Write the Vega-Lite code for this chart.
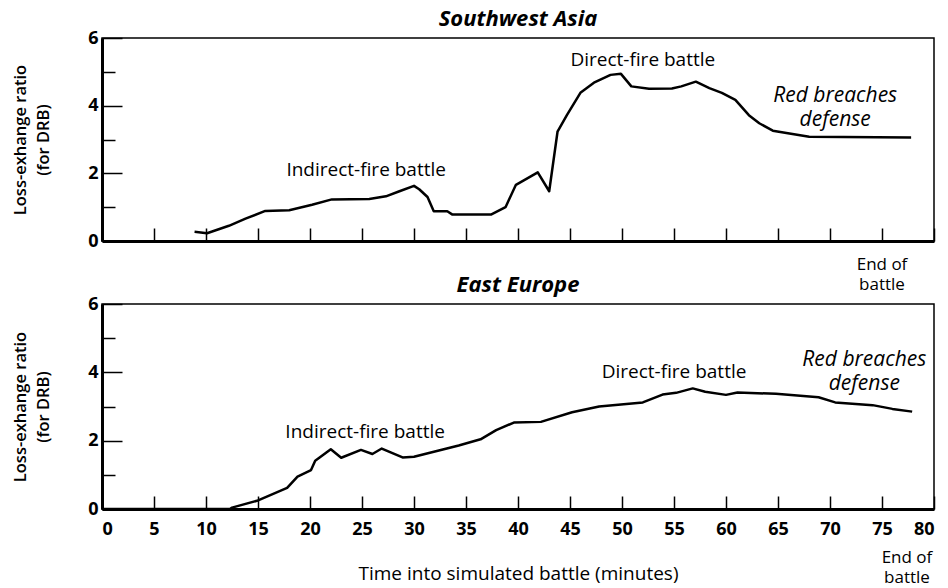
{
  "$schema": "https://vega.github.io/schema/vega-lite/v6.json",
  "background": "white",
  "padding": {"left": 11, "top": 7, "right": 5, "bottom": 0},
  "config": {
    "font": "Open Sans",
    "view": {"stroke": "black", "strokeWidth": 1.5},
    "axis": {"domainColor": "black", "domainWidth": 3, "tickColor": "black", "tickWidth": 1.5, "labelColor": "black", "titleColor": "black", "grid": false, "labelFont": "Open Sans", "labelFontWeight": 700, "labelFontSize": 18, "titleFont": "Open Sans", "titleFontWeight": 600, "titleFontSize": 16.5},
    "title": {"font": "Open Sans", "fontStyle": "italic", "fontWeight": 700, "fontSize": 22, "color": "black", "offset": -2},
    "text": {"font": "Open Sans", "fontSize": 19, "color": "black"}
  },
  "datasets": {
    "swa": [
      {"t": 8.9, "r": 0.27}, {"t": 10.1, "r": 0.23}, {"t": 12.2, "r": 0.45}, {"t": 13.8, "r": 0.66}, {"t": 15.7, "r": 0.89}, {"t": 18.0, "r": 0.91}, {"t": 20.2, "r": 1.07}, {"t": 22.1, "r": 1.23}, {"t": 25.7, "r": 1.24}, {"t": 27.3, "r": 1.32}, {"t": 28.6, "r": 1.47}, {"t": 30.0, "r": 1.63}, {"t": 30.5, "r": 1.53}, {"t": 31.3, "r": 1.30}, {"t": 31.9, "r": 0.88}, {"t": 33.2, "r": 0.88}, {"t": 33.7, "r": 0.78}, {"t": 37.4, "r": 0.78}, {"t": 38.8, "r": 1.0}, {"t": 39.8, "r": 1.66}, {"t": 40.6, "r": 1.80}, {"t": 41.9, "r": 2.03}, {"t": 43.0, "r": 1.47}, {"t": 43.8, "r": 3.23}, {"t": 44.7, "r": 3.72}, {"t": 46.0, "r": 4.38}, {"t": 47.3, "r": 4.68}, {"t": 48.9, "r": 4.91}, {"t": 49.9, "r": 4.94}, {"t": 50.9, "r": 4.57}, {"t": 52.6, "r": 4.50}, {"t": 54.8, "r": 4.51}, {"t": 55.7, "r": 4.57}, {"t": 57.1, "r": 4.71}, {"t": 58.4, "r": 4.52}, {"t": 59.6, "r": 4.38}, {"t": 60.9, "r": 4.17}, {"t": 62.2, "r": 3.72}, {"t": 63.2, "r": 3.48}, {"t": 64.5, "r": 3.26}, {"t": 66.1, "r": 3.18}, {"t": 68.0, "r": 3.08}, {"t": 77.8, "r": 3.06}
    ],
    "ee": [
      {"t": 0, "r": 0}, {"t": 12.3, "r": 0}, {"t": 12.5, "r": 0.04}, {"t": 14.9, "r": 0.24}, {"t": 17.8, "r": 0.62}, {"t": 18.8, "r": 0.95}, {"t": 20.1, "r": 1.14}, {"t": 20.5, "r": 1.41}, {"t": 22.0, "r": 1.75}, {"t": 23.0, "r": 1.50}, {"t": 24.9, "r": 1.73}, {"t": 26.0, "r": 1.61}, {"t": 26.9, "r": 1.77}, {"t": 28.9, "r": 1.51}, {"t": 30.0, "r": 1.53}, {"t": 34.3, "r": 1.86}, {"t": 36.4, "r": 2.04}, {"t": 37.9, "r": 2.31}, {"t": 39.6, "r": 2.53}, {"t": 42.2, "r": 2.55}, {"t": 45.2, "r": 2.83}, {"t": 47.8, "r": 3.0}, {"t": 52.0, "r": 3.12}, {"t": 53.9, "r": 3.35}, {"t": 55.2, "r": 3.40}, {"t": 56.8, "r": 3.53}, {"t": 58.0, "r": 3.43}, {"t": 60.0, "r": 3.34}, {"t": 61.1, "r": 3.41}, {"t": 64.8, "r": 3.37}, {"t": 68.9, "r": 3.27}, {"t": 70.5, "r": 3.12}, {"t": 74.1, "r": 3.04}, {"t": 76.0, "r": 2.93}, {"t": 77.9, "r": 2.85}
    ],
    "swa_notes": [
      {"t": 25.4, "r": 2.1, "label": "Indirect-fire battle"},
      {"t": 52.0, "r": 5.35, "label": "Direct-fire battle"}
    ],
    "swa_italic": [
      {"t": 70.5, "r": 4.29, "label": "Red breaches\ndefense"}
    ],
    "swa_end": [
      {"t": 75.0, "r": -0.71, "label": "End of\nbattle"}
    ],
    "ee_notes": [
      {"t": 25.3, "r": 2.25, "label": "Indirect-fire battle"},
      {"t": 55.0, "r": 4.0, "label": "Direct-fire battle"}
    ],
    "ee_italic": [
      {"t": 73.3, "r": 4.36, "label": "Red breaches\ndefense"}
    ],
    "ee_end": [
      {"t": 77.4, "r": -1.43, "label": "End of\nbattle"}
    ]
  },
  "spacing": 63,
  "bounds": "flush",
  "vconcat": [
    {
      "width": 832,
      "height": 203,
      "title": {"text": "Southwest Asia"},
      "encoding": {
        "x": {"field": "t", "type": "quantitative", "scale": {"domain": [0, 80], "nice": false, "zero": false},
              "axis": {"title": null, "labels": false, "values": [0, 5, 10, 15, 20, 25, 30, 35, 40, 45, 50, 55, 60, 65, 70, 75, 80], "tickSize": -13}},
        "y": {"field": "r", "type": "quantitative", "scale": {"domain": [0, 6], "nice": false},
              "axis": {"title": ["Loss-exhange ratio", "(for DRB)"], "titleLineHeight": 23, "titlePadding": 36, "values": [0, 1, 2, 3, 4, 5, 6], "labelExpr": "datum.value % 2 === 0 ? datum.label : ''", "labelFontSize": 18, "tickSize": {"condition": {"test": "datum.value % 2 === 0", "value": -20}, "value": -13}, "labelPadding": 24}}
      },
      "layer": [
        {"data": {"name": "swa"}, "mark": {"type": "line", "color": "black", "strokeWidth": 2.5, "strokeJoin": "round"}},
        {"data": {"name": "swa_notes"}, "mark": {"type": "text", "baseline": "middle"}, "encoding": {"text": {"field": "label"}}},
        {"data": {"name": "swa_italic"}, "mark": {"type": "text", "baseline": "middle", "fontStyle": "italic", "fontSize": 21, "lineBreak": "\n", "lineHeight": 24}, "encoding": {"text": {"field": "label"}}},
        {"data": {"name": "swa_end"}, "mark": {"type": "text", "baseline": "middle", "fontSize": 17, "lineBreak": "\n", "lineHeight": 20}, "encoding": {"text": {"field": "label"}}}
      ]
    },
    {
      "width": 832,
      "height": 205,
      "title": {"text": "East Europe"},
      "encoding": {
        "x": {"field": "t", "type": "quantitative", "scale": {"domain": [0, 80], "nice": false, "zero": false},
              "axis": {"title": "Time into simulated battle (minutes)", "titleFontWeight": 500, "titleFontSize": 19, "titlePadding": 26, "values": [0, 5, 10, 15, 20, 25, 30, 35, 40, 45, 50, 55, 60, 65, 70, 75, 80], "labelFontSize": 18, "tickSize": -13, "labelPadding": 24}},
        "y": {"field": "r", "type": "quantitative", "scale": {"domain": [0, 6], "nice": false},
              "axis": {"title": ["Loss-exhange ratio", "(for DRB)"], "titleLineHeight": 23, "titlePadding": 36, "values": [0, 1, 2, 3, 4, 5, 6], "labelExpr": "datum.value % 2 === 0 ? datum.label : ''", "labelFontSize": 18, "tickSize": {"condition": {"test": "datum.value % 2 === 0", "value": -20}, "value": -13}, "labelPadding": 24}}
      },
      "layer": [
        {"data": {"name": "ee"}, "mark": {"type": "line", "color": "black", "strokeWidth": 2.5, "strokeJoin": "round"}},
        {"data": {"name": "ee_notes"}, "mark": {"type": "text", "baseline": "middle"}, "encoding": {"text": {"field": "label"}}},
        {"data": {"name": "ee_italic"}, "mark": {"type": "text", "baseline": "middle", "fontStyle": "italic", "fontSize": 21, "lineBreak": "\n", "lineHeight": 24}, "encoding": {"text": {"field": "label"}}},
        {"data": {"name": "ee_end"}, "mark": {"type": "text", "baseline": "middle", "fontSize": 17, "lineBreak": "\n", "lineHeight": 20}, "encoding": {"text": {"field": "label"}}}
      ]
    }
  ]
}
